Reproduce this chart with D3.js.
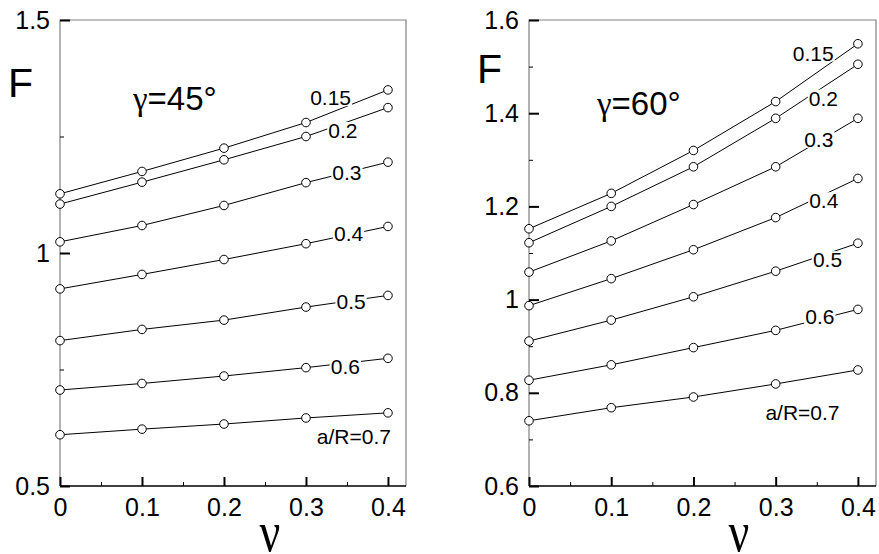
<!DOCTYPE html>
<html>
<head>
<meta charset="utf-8">
<script src="https://cdn.jsdelivr.net/npm/d3@7"></script>
<style>
  html, body { margin: 0; padding: 0; background: #fff; }
  svg { display: block; }
  text { font-family: "Liberation Sans", Arial, Helvetica, sans-serif; fill: #000; }
</style>
</head>
<body>
<svg id="chart" width="879" height="554"></svg>
<script>
// Poisson's ratio values (x axis)
const nu = [0, 0.1, 0.2, 0.3, 0.4];
const xTicks = [0, 0.1, 0.2, 0.3, 0.4];
const xMinorTicks = [0.05, 0.15, 0.25, 0.35];

// Curve names (a/R)
const ratioNames = ["0.15", "0.2", "0.3", "0.4", "0.5", "0.6", "a/R=0.7"];

// gamma = 45 deg
const g45_015 = [1.127, 1.175, 1.225, 1.280, 1.350];
const g45_020 = [1.105, 1.152, 1.200, 1.250, 1.312];
const g45_030 = [1.024, 1.059, 1.102, 1.151, 1.195];
const g45_040 = [0.923, 0.954, 0.986, 1.020, 1.057];
const g45_050 = [0.812, 0.836, 0.856, 0.884, 0.909];
const g45_060 = [0.706, 0.720, 0.736, 0.754, 0.774];
const g45_070 = [0.610, 0.622, 0.633, 0.646, 0.657];
const yTicks45 = [0.5, 1, 1.5];
const yTickLabels45 = ["0.5", "1", "1.5"];
const yMinorTicks45 = [0.75, 1.25];

// gamma = 60 deg
const g60_015 = [1.152, 1.228, 1.320, 1.425, 1.549];
const g60_020 = [1.122, 1.200, 1.285, 1.389, 1.505];
const g60_030 = [1.059, 1.126, 1.204, 1.285, 1.389];
const g60_040 = [0.987, 1.045, 1.107, 1.176, 1.260];
const g60_050 = [0.911, 0.956, 1.006, 1.061, 1.121];
const g60_060 = [0.827, 0.860, 0.897, 0.934, 0.979];
const g60_070 = [0.740, 0.768, 0.791, 0.819, 0.849];
const yTicks60 = [0.6, 0.8, 1, 1.2, 1.4, 1.6];
const yTickLabels60 = ["0.6", "0.8", "1", "1.2", "1.4", "1.6"];
const yMinorTicks60 = [0.7, 0.9, 1.1, 1.3, 1.5];

// Where each curve label sits: nu along the curve and a pixel shift from the line
const labelSpots45 = [
  { at: 0.330, dy: -15 }, { at: 0.345, dy: 7 }, { at: 0.350, dy: 0 },
  { at: 0.352, dy: -1 }, { at: 0.355, dy: 1 }, { at: 0.348, dy: 3 },
  { at: 0.3585, dy: 21 }
];
const labelSpots60 = [
  { at: 0.3457, dy: -22 }, { at: 0.358, dy: 11 }, { at: 0.3524, dy: -2 },
  { at: 0.3585, dy: 6 }, { at: 0.363, dy: 6 }, { at: 0.3537, dy: -3 },
  { at: 0.3326, dy: 33 }
];

const svg = d3.select("#chart");

function drawPanel(opt) {
  const x = d3.scaleLinear().domain([0, 0.422]).range([opt.left, opt.right]);
  const y = d3.scaleLinear().domain(opt.yDomain).range([486, 20]);
  const g = svg.append("g");

  // frame: grey top / right / left, black bottom
  g.append("path")
    .attr("d", `M${opt.left},486V20H${opt.right}V486`)
    .attr("fill", "none").attr("stroke", "#808080").attr("stroke-width", 1.2);
  g.append("line")
    .attr("x1", opt.left).attr("x2", opt.right).attr("y1", 486).attr("y2", 486)
    .attr("stroke", "#000").attr("stroke-width", 1.5);

  // x axis ticks (inward)
  const xAxis = d3.axisBottom(x).tickValues(xTicks).tickSize(-9).tickPadding(12)
    .tickFormat(d => d === 0 ? "0" : d3.format(".1f")(d));
  const xa = g.append("g").attr("transform", "translate(0,486)").call(xAxis);
  xa.select(".domain").remove();
  xa.selectAll(".tick line").attr("stroke", "#000").attr("stroke-width", 2);
  xa.selectAll(".tick text").attr("font-size", 25).attr("font-family", null).attr("fill", "#000");
  const xm = d3.axisBottom(x).tickValues(xMinorTicks).tickSize(-4).tickFormat("");
  const xma = g.append("g").attr("transform", "translate(0,486)").call(xm);
  xma.select(".domain").remove();
  xma.selectAll(".tick line").attr("stroke", "#000").attr("stroke-width", 1);

  // y axis ticks (inward)
  const yAxis = d3.axisLeft(y).tickValues(opt.yTicks).tickSize(-10).tickPadding(10)
    .tickFormat((d, i) => opt.yTickLabels[i]);
  const ya = g.append("g").attr("transform", `translate(${opt.left},0)`).call(yAxis);
  ya.select(".domain").remove();
  ya.selectAll(".tick line").attr("stroke", "#000").attr("stroke-width", 2);
  ya.selectAll(".tick text").attr("font-size", 25).attr("font-family", null).attr("fill", "#000");
  const ym = d3.axisLeft(y).tickValues(opt.yMinor).tickSize(-4).tickFormat("");
  const yma = g.append("g").attr("transform", `translate(${opt.left},0)`).call(ym);
  yma.select(".domain").remove();
  yma.selectAll(".tick line").attr("stroke", "#000").attr("stroke-width", 1);

  // curves
  const line = d3.line().x((d, i) => x(nu[i])).y(d => y(d));
  const curves = g.append("g");
  opt.series.forEach(s => {
    curves.append("path").attr("d", line(s)).attr("fill", "none")
      .attr("stroke", "#000").attr("stroke-width", 1);
  });

  // curve labels on a white patch that interrupts the line
  const fs = 21;
  opt.series.forEach((s, k) => {
    const spot = opt.spots[k];
    const i = Math.min(3, Math.floor(spot.at / 0.1));
    const t = (spot.at - nu[i]) / (nu[i + 1] - nu[i]);
    const v = s[i] + t * (s[i + 1] - s[i]);
    const cx = x(spot.at);
    const cy = y(v) + spot.dy;
    const base = cy + 0.36 * fs;
    const lg = g.append("g");
    const rect = lg.append("rect").attr("fill", "#fff");
    const txt = lg.append("text").attr("x", cx).attr("y", base)
      .attr("text-anchor", "middle").attr("font-size", fs).text(ratioNames[k]);
    const w = txt.node().getComputedTextLength();
    rect.attr("x", cx - w / 2 - 1).attr("width", w + 2)
      .attr("y", base - 0.76 * fs).attr("height", 0.8 * fs);
  });

  // markers
  opt.series.forEach(s => {
    g.append("g").selectAll("circle").data(s).join("circle")
      .attr("cx", (d, i) => x(nu[i])).attr("cy", d => y(d)).attr("r", 4.3)
      .attr("fill", "#fff").attr("stroke", "#000").attr("stroke-width", 1);
  });

  // axis titles
  g.append("text").attr("x", opt.left - 52).attr("y", opt.fY)
    .attr("font-size", 41).text("F");
  g.append("text")
    .attr("transform", `translate(${opt.left + 210},551) scale(1,1.25)`)
    .attr("text-anchor", "middle")
    .style("font-family", "'Liberation Serif', 'Times New Roman', serif")
    .attr("font-size", 46).text("\u03bd");

  // panel title
  const title = g.append("text").attr("x", opt.titleX).attr("y", opt.titleY).attr("font-size", 33);
  title.append("tspan").style("font-family", "'Liberation Serif', 'Times New Roman', serif").text("\u03b3");
  title.append("tspan").text(opt.titleText);
}

drawPanel({
  left: 60, right: 406, yDomain: [0.5, 1.5],
  yTicks: yTicks45, yTickLabels: yTickLabels45, yMinor: yMinorTicks45,
  series: [g45_015, g45_020, g45_030, g45_040, g45_050, g45_060, g45_070],
  spots: labelSpots45, fY: 97, titleX: 133, titleY: 110, titleText: "=45\u00b0"
});

drawPanel({
  left: 529, right: 876, yDomain: [0.6, 1.6],
  yTicks: yTicks60, yTickLabels: yTickLabels60, yMinor: yMinorTicks60,
  series: [g60_015, g60_020, g60_030, g60_040, g60_050, g60_060, g60_070],
  spots: labelSpots60, fY: 83, titleX: 597, titleY: 115, titleText: "=60\u00b0"
});
</script>
</body>
</html>
